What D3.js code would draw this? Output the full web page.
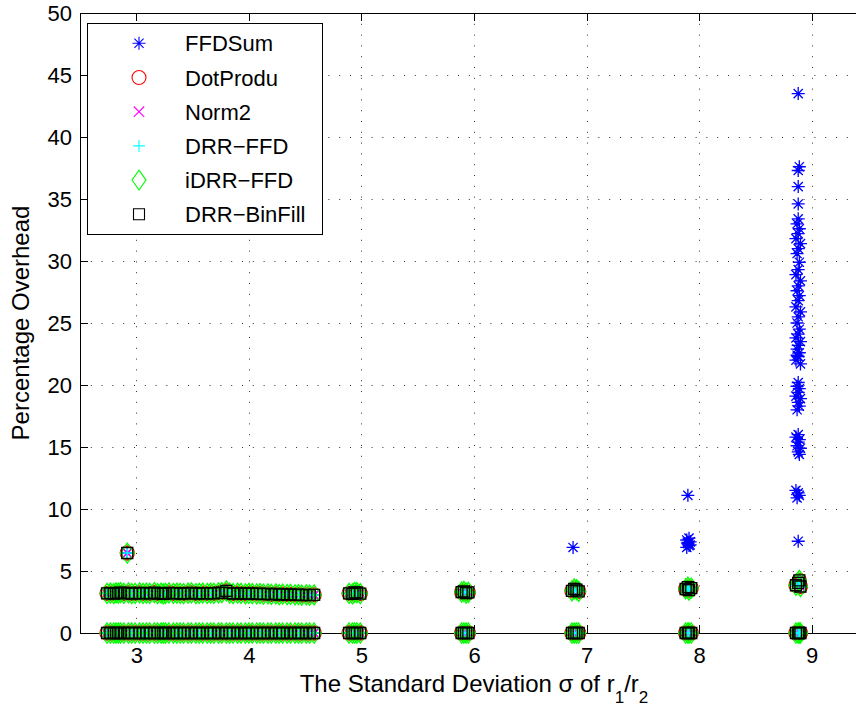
<!DOCTYPE html>
<html>
<head>
<meta charset="utf-8">
<script src="https://cdn.jsdelivr.net/npm/d3@7"></script>
<style>
  body { margin: 0; background: #fff; }
  svg { display: block; }
  text { font-family: "Liberation Sans", Arial, Helvetica, sans-serif; fill: #000; }
</style>
</head>
<body>
<svg id="chart" width="856" height="709"></svg>
<script>
// ---- data -------------------------------------------------------------
const algorithms = ["FFDSum", "DotProdu", "Norm2", "DRR\u2212FFD", "iDRR\u2212FFD", "DRR\u2212BinFill"];

const xTicks = [3, 4, 5, 6, 7, 8, 9];
const yTicks = [0, 5, 10, 15, 20, 25, 30, 35, 40, 45, 50];

// sigma of r1/r2 for the dense sweep of instances
const sigmaSweep = [2.74, 2.77, 2.80, 2.82, 2.84, 2.86, 2.89, 2.93, 2.96, 2.99, 3.03,
                    3.06, 3.09, 3.12, 3.16, 3.19, 3.22, 3.24, 3.26, 3.29, 3.33, 3.36,
                    3.39, 3.42, 3.46, 3.49, 3.53, 3.56, 3.59, 3.63, 3.66, 3.69,
                    3.73, 3.76, 3.80, 3.83, 3.86, 3.90, 3.93, 3.97, 4.00, 4.03,
                    4.07, 4.10, 4.13, 4.17, 4.20, 4.24, 4.27, 4.30, 4.34, 4.37,
                    4.41, 4.44, 4.47, 4.51, 4.54, 4.58];
// non-zero overhead (%) reached at each sweep sigma
const sweepOverhead = [3.20, 3.22, 3.18, 3.24, 3.21, 3.25, 3.20, 3.23, 3.17, 3.20, 3.24,
                       3.19, 3.22, 3.20, 3.26, 3.18, 3.21, 3.15, 3.20, 3.23, 3.19, 3.22,
                       3.20, 3.17, 3.21, 3.24, 3.18, 3.20, 3.22, 3.19, 3.21, 3.20,
                       3.24, 3.26, 3.40, 3.22, 3.18, 3.21, 3.19, 3.16, 3.20, 3.18,
                       3.15, 3.17, 3.14, 3.16, 3.12, 3.15, 3.10, 3.13, 3.09, 3.11,
                       3.08, 3.10, 3.06, 3.08, 3.05, 3.07];

// grouped instances near sigma = 5, 6, 7, 8, 9
const sigmaCluster = [4.89, 4.92, 4.94, 4.96, 4.99, 5.89, 5.91, 5.93, 5.95, 6.87, 6.89,
                      6.91, 6.93, 7.88, 7.90, 7.91, 7.93, 8.86, 8.88, 8.89, 8.90];
const clusterOverhead = [3.20, 3.15, 3.28, 3.25, 3.18, 3.30, 3.35, 3.22, 3.28, 3.40,
                         3.55, 3.50, 3.35, 3.55, 3.70, 3.45, 3.62, 3.85, 4.05, 4.25, 3.75];

// single outlier in the sweep
const sigmaOutlier = [2.92];
const outlierOverhead = [6.45];

// FFDSum-only overheads above the shared rows
const ffdSumSigma = [6.88,
  7.90, 7.89, 7.91, 7.90, 7.92, 7.89, 7.91, 7.90, 7.92,
  8.88, 8.87, 8.89, 8.88, 8.86, 8.89, 8.88, 8.90, 8.87, 8.88, 8.89, 8.86, 8.88,
  8.87, 8.89, 8.88, 8.90, 8.86, 8.88, 8.89, 8.87, 8.88, 8.90, 8.86, 8.88, 8.89,
  8.87, 8.88, 8.90, 8.86, 8.88, 8.89, 8.87, 8.88, 8.90, 8.86, 8.88, 8.89, 8.87,
  8.88, 8.90, 8.86, 8.88, 8.89, 8.87, 8.88, 8.90, 8.86, 8.88, 8.89, 8.87, 8.88,
  8.88, 8.88, 8.88, 8.89, 8.87, 8.88];
const ffdSumOverhead = [6.9,
  11.1, 6.9, 7.05, 7.2, 7.35, 7.5, 7.65, 7.3, 7.1,
  7.4, 10.9, 11.1, 11.3, 11.5, 14.4, 14.6, 14.9, 15.1, 15.4, 15.6, 15.8, 16.0,
  18.0, 18.3, 18.6, 18.9, 19.1, 19.4, 19.7, 19.9, 20.2, 21.7, 22.0, 22.3, 22.6,
  22.9, 23.2, 23.5, 23.8, 24.1, 24.5, 25.0, 25.5, 25.9, 26.3, 26.8, 27.2, 27.6,
  28.0, 28.4, 28.9, 29.3, 29.9, 30.6, 31.0, 31.4, 31.8, 32.2, 32.6, 33.0, 33.4,
  34.6, 36.0, 37.3, 37.6, 22.4, 43.5];

// ---- layout -----------------------------------------------------------
const svg = d3.select("#chart");
const x = d3.scaleLinear().domain([2.5, 9.5]).range([80, 868]);
const y = d3.scaleLinear().domain([0, 50]).range([633, 13]);

const colors = ["#0000ff", "#ff0000", "#ff00ff", "#00ffff", "#00ff00", "#000000"];
const symbolPath = [
  "M-6.5,0H6.5M0,-6.5V6.5M-4.6,-4.6L4.6,4.6M-4.6,4.6L4.6,-4.6", // asterisk
  "M7,0A7,7 0 1,1 -7,0A7,7 0 1,1 7,0Z",                          // circle
  "M-5.2,-5.2L5.2,5.2M-5.2,5.2L5.2,-5.2",                        // x-mark
  "M-6,0H6M0,-6V6",                                              // plus
  "M0,-10L7,0L0,10L-7,0Z",                                       // diamond
  "M-5.5,-5.5H5.5V5.5H-5.5Z"                                     // square
];

// ---- grid ---------------------------------------------------------------
const grid = svg.append("g").attr("stroke", "#333").attr("stroke-width", 1)
  .attr("stroke-dasharray", "1,9.8");
grid.selectAll(".gx").data(xTicks).join("line")
  .attr("x1", d => Math.round(x(d)) + 0.5).attr("x2", d => Math.round(x(d)) + 0.5)
  .attr("y1", y(50)).attr("y2", y(0));
grid.selectAll(".gy").data(yTicks).join("line")
  .attr("y1", d => Math.round(y(d)) + 0.5).attr("y2", d => Math.round(y(d)) + 0.5)
  .attr("x1", x(2.5)).attr("x2", x(9.5));

// ---- axes -------------------------------------------------------------
function styleAxis(g) {
  g.selectAll("path,line").attr("stroke", "#000").attr("stroke-width", 1)
    .attr("shape-rendering", "crispEdges");
  g.selectAll("text").style("font-size", "22px").attr("fill", "#000");
}
svg.append("g").attr("transform", `translate(0,${y(0)})`)
  .call(d3.axisBottom(x).tickValues(xTicks).tickFormat(d3.format("d"))
    .tickSizeInner(-8).tickSizeOuter(0).tickPadding(14))
  .call(styleAxis);
svg.append("g").attr("transform", `translate(0,${y(50)})`)
  .call(d3.axisTop(x).tickValues(xTicks).tickFormat("")
    .tickSizeInner(-8).tickSizeOuter(0))
  .call(styleAxis);
svg.append("g").attr("transform", `translate(${x(2.5)},0)`)
  .call(d3.axisLeft(y).tickValues(yTicks).tickFormat(d3.format("d"))
    .tickSizeInner(-8).tickSizeOuter(0).tickPadding(8))
  .call(styleAxis);
svg.append("g").attr("transform", `translate(${x(9.5)},0)`)
  .call(d3.axisRight(y).tickValues(yTicks).tickFormat("")
    .tickSizeInner(-8).tickSizeOuter(0))
  .call(styleAxis);

// ---- points -----------------------------------------------------------
function sharedPoints() {
  const pts = [];
  sigmaSweep.forEach(s => pts.push([s, 0]));
  sigmaCluster.forEach(s => pts.push([s, 0]));
  sigmaSweep.forEach((s, i) => pts.push([s, sweepOverhead[i]]));
  sigmaCluster.forEach((s, i) => pts.push([s, clusterOverhead[i]]));
  sigmaOutlier.forEach((s, i) => pts.push([s, outlierOverhead[i]]));
  return pts;
}

algorithms.forEach((name, k) => {
  let pts = sharedPoints();
  if (k === 0) pts = pts.concat(ffdSumSigma.map((s, i) => [s, ffdSumOverhead[i]]));
  svg.append("g").attr("class", "series")
    .attr("fill", "none").attr("stroke", colors[k]).attr("stroke-width", 1.3)
    .selectAll("path").data(pts).join("path")
    .attr("transform", d => `translate(${x(d[0])},${y(d[1])})`)
    .attr("d", symbolPath[k]);
});

// ---- legend -----------------------------------------------------------
const legend = svg.append("g");
legend.append("rect").attr("x", 87.5).attr("y", 23.5).attr("width", 235).attr("height", 211)
  .attr("fill", "#fff").attr("stroke", "#000").attr("stroke-width", 1);
algorithms.forEach((name, k) => {
  const cy = 43.3 + k * 34.2;
  legend.append("path").attr("transform", `translate(139,${cy})`)
    .attr("d", symbolPath[k]).attr("fill", "none")
    .attr("stroke", colors[k]).attr("stroke-width", 1.1);
  legend.append("text").attr("x", 185).attr("y", cy + 8).style("font-size", "22px").text(name);
});

// ---- titles -----------------------------------------------------------
const xt = svg.append("text").attr("x", 474).attr("y", 692)
  .attr("text-anchor", "middle").style("font-size", "24px");
xt.append("tspan").text("The Standard Deviation \u03c3 of r");
xt.append("tspan").attr("dy", 11).style("font-size", "17px").text("1");
xt.append("tspan").attr("dy", -11).text("/r");
xt.append("tspan").attr("dy", 11).style("font-size", "17px").text("2");

svg.append("text").attr("transform", "translate(29,323) rotate(-90)")
  .attr("text-anchor", "middle").style("font-size", "24px").text("Percentage Overhead");
</script>
</body>
</html>
